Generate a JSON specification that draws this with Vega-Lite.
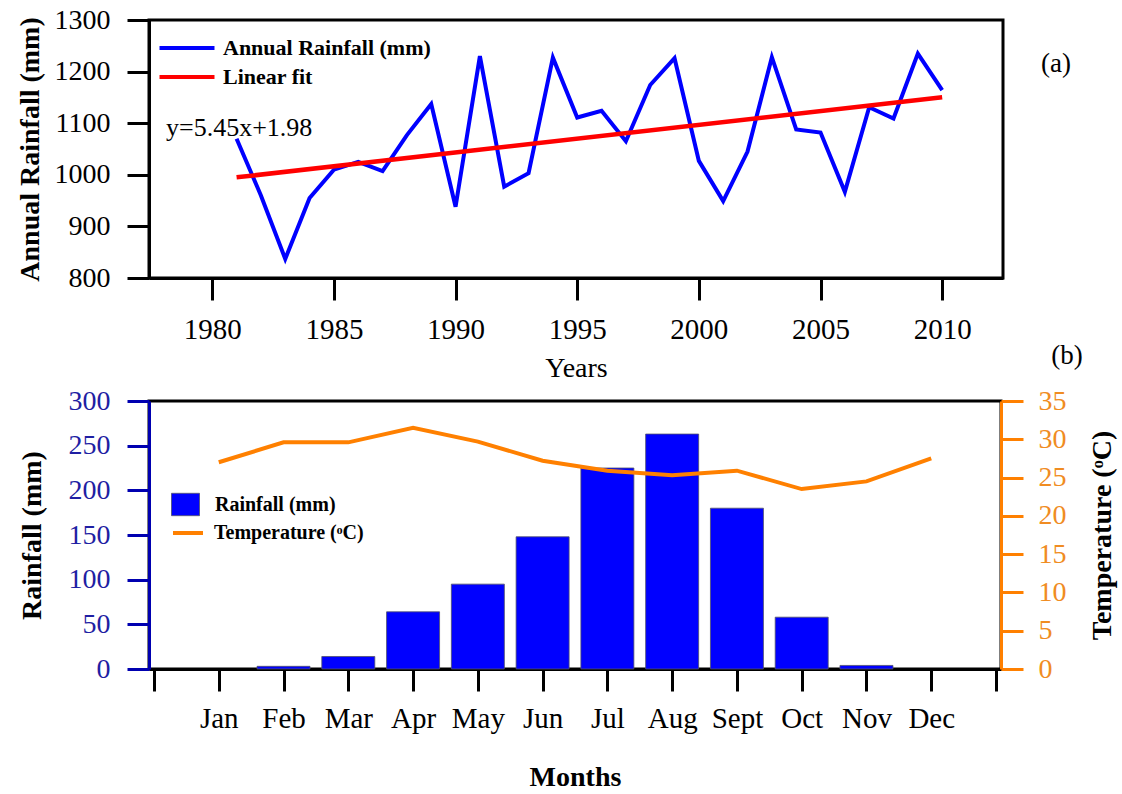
{
  "$schema": "https://vega.github.io/schema/vega-lite/v6.json",
  "background": "white",
  "padding": {"left": 14, "top": 4, "right": 0, "bottom": 0},
  "bounds": "flush",
  "spacing": 123,
  "resolve": {
    "scale": {"stroke": "independent", "fill": "independent"},
    "legend": {"stroke": "independent", "fill": "independent"}
  },
  "config": {
    "font": "Liberation Serif",
    "view": {"stroke": "black", "strokeWidth": 3},
    "axis": {
      "grid": false,
      "domainColor": "black",
      "domainWidth": 3,
      "tickColor": "black",
      "tickWidth": 3,
      "tickSize": 22,
      "labelFont": "Liberation Serif",
      "labelFontSize": 28,
      "labelColor": "black",
      "labelFlush": false,
      "labelOverlap": false,
      "titleFont": "Liberation Serif",
      "titleFontSize": 28,
      "titleColor": "black"
    },
    "legend": {
      "labelFont": "Liberation Serif",
      "labelColor": "black",
      "labelFontWeight": "bold",
      "labelLimit": 400,
      "padding": 0
    }
  },
  "vconcat": [
    {
      "width": 854,
      "height": 258,
      "data": {
        "values": [
          {"year": 1981, "rainfall": 1070},
          {"year": 1982, "rainfall": 960},
          {"year": 1983, "rainfall": 837},
          {"year": 1984, "rainfall": 955},
          {"year": 1985, "rainfall": 1010},
          {"year": 1986, "rainfall": 1025},
          {"year": 1987, "rainfall": 1007},
          {"year": 1988, "rainfall": 1077},
          {"year": 1989, "rainfall": 1137},
          {"year": 1990, "rainfall": 938},
          {"year": 1991, "rainfall": 1230},
          {"year": 1992, "rainfall": 977},
          {"year": 1993, "rainfall": 1003},
          {"year": 1994, "rainfall": 1227},
          {"year": 1995, "rainfall": 1111},
          {"year": 1996, "rainfall": 1124},
          {"year": 1997, "rainfall": 1065},
          {"year": 1998, "rainfall": 1174},
          {"year": 1999, "rainfall": 1226},
          {"year": 2000, "rainfall": 1027},
          {"year": 2001, "rainfall": 949},
          {"year": 2002, "rainfall": 1045},
          {"year": 2003, "rainfall": 1228},
          {"year": 2004, "rainfall": 1088},
          {"year": 2005, "rainfall": 1082},
          {"year": 2006, "rainfall": 967},
          {"year": 2007, "rainfall": 1131},
          {"year": 2008, "rainfall": 1109},
          {"year": 2009, "rainfall": 1235},
          {"year": 2010, "rainfall": 1164}
        ]
      },
      "layer": [
        {
          "mark": {"type": "line", "strokeWidth": 4, "strokeJoin": "miter"},
          "encoding": {
            "x": {
              "field": "year",
              "type": "quantitative",
              "scale": {"domain": [1977.4, 2012.5], "nice": false, "zero": false},
              "axis": {
                "values": [1980, 1985, 1990, 1995, 2000, 2005, 2010],
                "format": "d",
                "labelFontSize": 29,
                "title": "Years",
                "titleFontWeight": "normal",
                "labelPadding": 15,
                "titlePadding": 10
              }
            },
            "y": {
              "field": "rainfall",
              "type": "quantitative",
              "scale": {"domain": [800, 1300], "nice": false, "zero": false},
              "axis": {
                "values": [800, 900, 1000, 1100, 1200, 1300],
                "format": "d",
                "title": "Annual Rainfall (mm)",
                "titleFontWeight": "bold",
                "labelPadding": 17,
                "titlePadding": 10
              }
            },
            "stroke": {
              "datum": "Annual Rainfall (mm)",
              "type": "nominal",
              "scale": {"domain": ["Annual Rainfall (mm)", "Linear fit"], "range": ["#0000ff", "#ff0000"]},
              "legend": {
                "title": null,
                "orient": "none",
                "legendX": 22,
                "legendY": 12,
                "symbolType": "M-2,0H2",
                "symbolSize": 756,
                "symbolStrokeWidth": 4,
                "labelFontSize": 22,
                "labelOffset": 20,
                "rowPadding": 2
              }
            }
          }
        },
        {
          "transform": [
            {"regression": "rainfall", "on": "year", "method": "linear", "extent": [1981, 2010]}
          ],
          "mark": {"type": "line", "strokeWidth": 4.5},
          "encoding": {
            "x": {"field": "year", "type": "quantitative"},
            "y": {"field": "rainfall", "type": "quantitative"},
            "stroke": {"datum": "Linear fit", "type": "nominal"}
          }
        },
        {
          "data": {"values": [{"text": "y=5.45x+1.98"}]},
          "mark": {"type": "text", "align": "left", "baseline": "alphabetic", "fontSize": 26, "fontWeight": "normal", "color": "black"},
          "encoding": {
            "text": {"field": "text"},
            "x": {"datum": 1978.1, "type": "quantitative"},
            "y": {"datum": 1075, "type": "quantitative"}
          }
        },
        {
          "data": {"values": [{"text": "(a)"}]},
          "mark": {"type": "text", "align": "center", "baseline": "middle", "fontSize": 27, "fontWeight": "normal", "color": "black", "clip": false},
          "encoding": {
            "text": {"field": "text"},
            "x": {"datum": 2014.68, "type": "quantitative"},
            "y": {"datum": 1215, "type": "quantitative"}
          }
        },
        {
          "data": {"values": [{"text": "(b)"}]},
          "mark": {"type": "text", "align": "center", "baseline": "middle", "fontSize": 27, "fontWeight": "normal", "color": "black", "clip": false},
          "encoding": {
            "text": {"field": "text"},
            "x": {"datum": 2015.13, "type": "quantitative"},
            "y": {"datum": 649, "type": "quantitative"}
          }
        }
      ]
    },
    {
      "width": 852,
      "height": 268,
      "data": {
        "values": [
          {"month": 1, "name": "Jan", "rainfall": 0, "temperature": 27.0},
          {"month": 2, "name": "Feb", "rainfall": 3, "temperature": 29.6},
          {"month": 3, "name": "Mar", "rainfall": 14, "temperature": 29.6},
          {"month": 4, "name": "Apr", "rainfall": 64, "temperature": 31.5},
          {"month": 5, "name": "May", "rainfall": 95, "temperature": 29.7},
          {"month": 6, "name": "Jun", "rainfall": 148, "temperature": 27.2},
          {"month": 7, "name": "Jul", "rainfall": 225, "temperature": 25.9},
          {"month": 8, "name": "Aug", "rainfall": 263, "temperature": 25.3},
          {"month": 9, "name": "Sept", "rainfall": 180, "temperature": 25.9},
          {"month": 10, "name": "Oct", "rainfall": 58, "temperature": 23.5},
          {"month": 11, "name": "Nov", "rainfall": 4, "temperature": 24.5},
          {"month": 12, "name": "Dec", "rainfall": 0, "temperature": 27.5}
        ]
      },
      "layer": [
        {
          "transform": [{"filter": "datum.rainfall > 0"}],
          "mark": {"type": "bar", "width": 53, "stroke": "#50506a", "strokeWidth": 0.8},
          "encoding": {
            "x": {
              "field": "month",
              "type": "quantitative",
              "scale": {"domain": [0, 13], "nice": false, "zero": false},
              "axis": {
                "values": [0, 1, 2, 3, 4, 5, 6, 7, 8, 9, 10, 11, 12, 13],
                "labelExpr": "['', 'Jan', 'Feb', 'Mar', 'Apr', 'May', 'Jun', 'Jul', 'Aug', 'Sept', 'Oct', 'Nov', 'Dec', ''][datum.value]",
                "labelFontSize": 29,
                "title": "Months",
                "titleFontWeight": "bold",
                "labelPadding": 13,
                "titlePadding": 30
              }
            },
            "y": {
              "field": "rainfall",
              "type": "quantitative",
              "scale": {"domain": [0, 300], "nice": false},
              "axis": {
                "orient": "left",
                "values": [0, 50, 100, 150, 200, 250, 300],
                "title": "Rainfall (mm)",
                "titleFontWeight": "bold",
                "domainColor": "#0000b0",
                "tickColor": "#0000b0",
                "labelColor": "#1f1fa3",
                "labelPadding": 17,
                "titlePadding": 22,
                "zindex": 1
              }
            },
            "fill": {
              "datum": "Rainfall (mm)",
              "type": "nominal",
              "scale": {"range": ["#0000ff"]},
              "legend": {
                "title": null,
                "orient": "none",
                "legendX": 22,
                "legendY": 89,
                "symbolType": "M-1,-0.8H1V0.8H-1Z",
                "symbolSize": 784,
                "symbolStrokeColor": "#50506a",
                "symbolStrokeWidth": 0.8,
                "labelFontSize": 20,
                "labelOffset": 15
              }
            }
          }
        },
        {
          "mark": {"type": "line", "strokeWidth": 4},
          "encoding": {
            "x": {"field": "month", "type": "quantitative"},
            "y": {
              "field": "temperature",
              "type": "quantitative",
              "scale": {"domain": [0, 35], "nice": false},
              "axis": {
                "orient": "right",
                "values": [0, 5, 10, 15, 20, 25, 30, 35],
                "title": "Temperature (ᵒC)",
                "titleFontWeight": "bold",
                "titleAngle": 270,
                "titleBaseline": "top",
                "domainColor": "#ff8000",
                "tickColor": "#ff8000",
                "labelColor": "#f08c22",
                "labelPadding": 15,
                "titlePadding": 22,
                "zindex": 1
              }
            },
            "stroke": {
              "datum": "Temperature (ᵒC)",
              "type": "nominal",
              "scale": {"range": ["#ff8000"]},
              "legend": {
                "title": null,
                "orient": "none",
                "legendX": 22,
                "legendY": 115,
                "symbolType": "stroke",
                "symbolSize": 900,
                "symbolStrokeWidth": 4,
                "labelFontSize": 20,
                "labelOffset": 9
              }
            }
          }
        }
      ],
      "resolve": {"scale": {"y": "independent"}}
    }
  ]
}
